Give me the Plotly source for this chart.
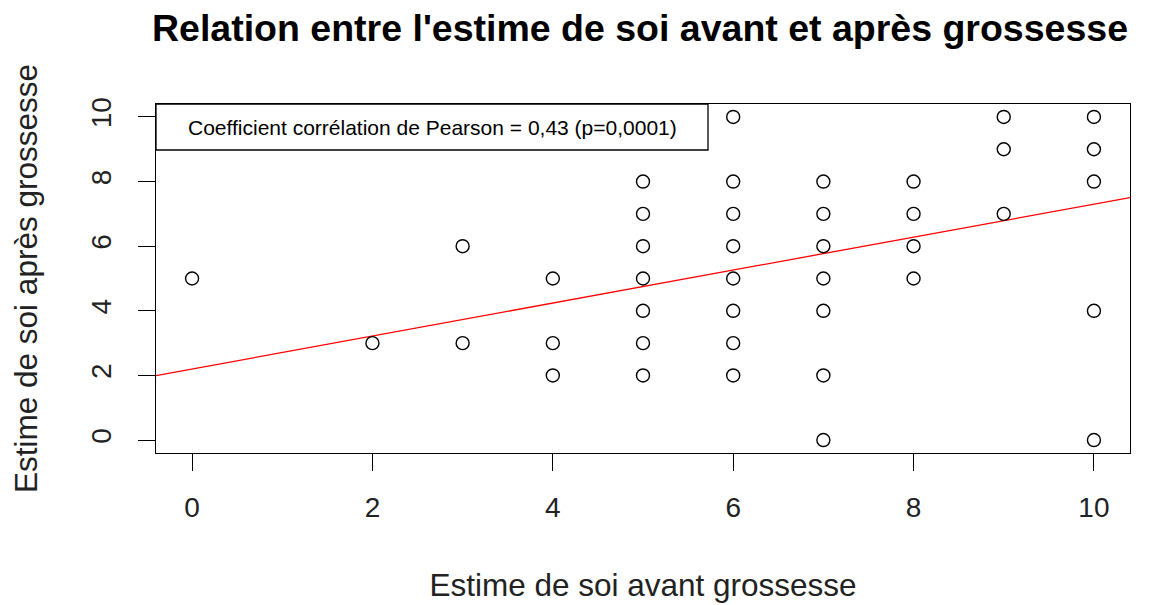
import plotly.graph_objects as go

# Data
x_avant = [0, 2, 3, 3, 4, 4, 4,
           5, 5, 5, 5, 5, 5, 5,
           6, 6, 6, 6, 6, 6, 6, 6,
           7, 7, 7, 7, 7, 7, 7,
           8, 8, 8, 8,
           9, 9, 9,
           10, 10, 10, 10, 10]
y_apres = [5, 3, 6, 3, 5, 3, 2,
           8, 7, 6, 5, 4, 3, 2,
           10, 8, 7, 6, 5, 4, 3, 2,
           8, 7, 6, 5, 4, 2, 0,
           8, 7, 6, 5,
           10, 9, 7,
           10, 9, 8, 4, 0]
fit_intercept = 2.2
fit_slope = 0.51
tick_vals = [0, 2, 4, 6, 8, 10]
title_text = "Relation entre l'estime de soi avant et après grossesse"
x_title = "Estime de soi avant grossesse"
y_title = "Estime de soi après grossesse"
legend_text = "Coefficient corrélation de Pearson = 0,43 (p=0,0001)"

# page has an 8px body margin; figure is sized to compensate
W, H = 1145, 597
L, R, T, B = 148, 23, 96, 152
xr = [-0.4, 10.4]
yr = [-0.4, 10.4]

fig = go.Figure()
fig.add_trace(go.Scatter(
    x=[xr[0], xr[1]],
    y=[fit_intercept + fit_slope * xr[0], fit_intercept + fit_slope * xr[1]],
    mode="lines", line=dict(color="red", width=1.3), showlegend=False,
    hoverinfo="skip"))
fig.add_trace(go.Scatter(
    x=x_avant, y=y_apres, mode="markers",
    marker=dict(symbol="circle-open", size=13, color="black", line=dict(width=1.4)),
    showlegend=False))

font_fam = "Liberation Sans, Arial, sans-serif"
axis_common = dict(showgrid=False, zeroline=False, showline=True, linecolor="black",
                   linewidth=1.3, mirror=True, ticks="outside", ticklen=17,
                   tickwidth=1.3, tickcolor="black", tickvals=tick_vals,
                   tickfont=dict(family=font_fam, size=28, color="#222"))

pw = (W - L - R)
ph = (H - T - B)
box_right = (708 - 156) / pw
box_bottom = 1 - (150 - 104) / ph

fig.update_layout(
    width=W, height=H,
    margin=dict(l=L, r=R, t=T, b=B, autoexpand=False),
    plot_bgcolor="white", paper_bgcolor="white",
    title=dict(text="<b>" + title_text + "</b>", x=632 / W, xanchor="center",
               y=1 - 20 / H, yanchor="middle",
               font=dict(family=font_fam, size=37.5, color="black")),
    xaxis=dict(range=xr, ticklabelstandoff=12,
               title=dict(text=x_title, standoff=52, font=dict(family=font_fam, size=31.5, color="#222")),
               **axis_common),
    yaxis=dict(range=yr, tickangle=-90, ticklabelstandoff=16,
               title=dict(text=y_title, standoff=38, font=dict(family=font_fam, size=31.5, color="#222")),
               **axis_common),
    shapes=[dict(type="rect", xref="paper", yref="paper", x0=0, x1=box_right,
                 y0=box_bottom, y1=1, line=dict(color="black", width=1.3),
                 fillcolor="white", layer="below")],
    annotations=[dict(text=legend_text, xref="paper", yref="paper",
                      x=box_right / 2, y=(1 + box_bottom) / 2, xanchor="center",
                      yanchor="middle", showarrow=False,
                      font=dict(family=font_fam, size=21, color="black"))],
)

fig.write_html("out.html")
